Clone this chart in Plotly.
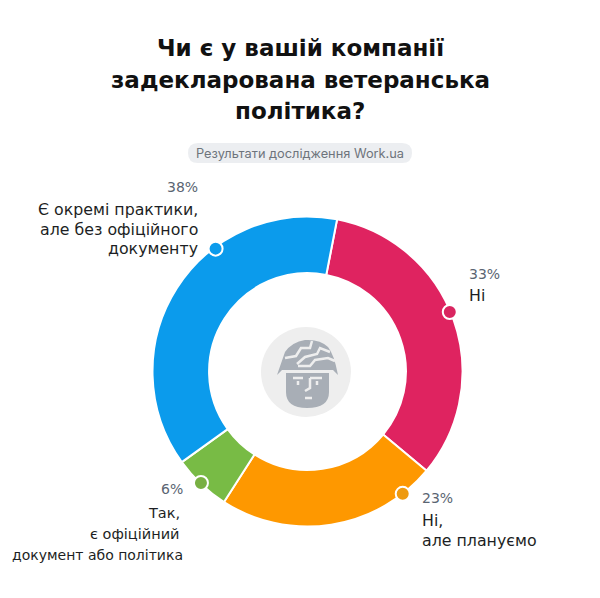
import math
import plotly.graph_objects as go

categories = ["Є окремі практики, але без офіційного документу", "Ні", "Ні, але плануємо", "Так, є офіційний документ або політика"]
values = [38, 33, 23, 6]
colors = ["#0b9bec", "#df2360", "#fe9800", "#78bb45"]
dot_colors = ["#0b9bec", "#d92560", "#ee9a10", "#78b043"]
order = [1, 2, 3, 0]

title_lines = ["Чи є у вашій компанії", "задекларована ветеранська", "політика?"]
subtitle = "Результати дослідження Work.ua"

# callout dots: angle clockwise from 12 o'clock, share of the outer radius
dot_angles = [-36.8, 67.3, 142.1, 223.7]
dot_radius = [0.99, 0.995, 1.0, 0.995]
CX, CY, R = 307.5, 371.5, 155
FONT = "DejaVu Sans, sans-serif"
INK = "#1d1f24"
MUTED = "#5a6472"
ICON = "#a8aeb6"
BADGE = "#eeeeee"

fig = go.Figure()
fig.add_trace(go.Pie(
    values=[values[i] for i in order],
    labels=[categories[i] for i in order],
    marker=dict(colors=[colors[i] for i in order], line=dict(color="white", width=2)),
    sort=False, direction="clockwise", rotation=11, hole=0.635,
    textinfo="none", hoverinfo="label+percent", showlegend=False,
    domain=dict(x=[(CX - R) / 600, (CX + R) / 600], y=[1 - (CY + R) / 598, 1 - (CY - R) / 598]),
))
# an empty trace keeps the pixel-ranged axes alive for the text and shapes
fig.add_trace(go.Scatter(x=[None], y=[None], mode="markers", showlegend=False, hoverinfo="skip"))

def shape(**kw):
    return dict(xref="x", yref="y", **kw)

shapes = [
    # subtitle chip
    shape(type="path", path="M 198 143 H 402 Q 412 143 412 153 Q 412 163 402 163 H 198 Q 188 163 188 153 Q 188 143 198 143 Z",
          fillcolor="#eceef1", line_width=0, layer="below"),
    # centre badge
    shape(type="circle", x0=261, x1=351, y0=327, y1=417, fillcolor=BADGE, line_width=0),
    # helmet
    shape(type="path", path="M 277 375 L 285 352 Q 292 342 305 340 Q 320 339 328 347 Q 334 354 338 375 L 333 370 H 282 Z",
          fillcolor=ICON, line_width=0),
    # helmet cracks
    shape(type="path", path="M 285 358 L 296 356 L 301 348 L 310 348 L 312 341 M 297 364 L 305 357 L 317 354 L 320 348 L 330 352 M 298 366 L 310 366 L 315 360 L 328 358 L 335 361",
          line=dict(color=BADGE, width=2.5)),
    # face
    shape(type="path", path="M 286 373 H 329 V 392 Q 329 408 307 408 Q 286 408 286 392 Z",
          fillcolor=ICON, line_width=0),
    # eyes, nose, mouth
    shape(type="path", path="M 293 378 H 303 M 310 378 H 322 M 298 381 V 385 M 317 381 V 385 M 310 378 V 388 L 305 391 M 305 398 H 312",
          line=dict(color=BADGE, width=2.5)),
]

# callout dots sit on top of the ring
for a, f, c in zip(dot_angles, dot_radius, dot_colors):
    t = math.radians(a)
    px = CX + R * f * math.sin(t)
    py = CY - R * f * math.cos(t)
    shapes.append(shape(type="circle", x0=px - 7, x1=px + 7, y0=py - 7, y1=py + 7,
                        fillcolor=c, line=dict(color="white", width=2)))

ann = []
def text(x, y, s, size, color, anchor="left", weight=None, family=FONT):
    if weight:
        s = f"<b>{s}</b>"
    ann.append(dict(x=x, y=y, xref="x", yref="y", text=s, showarrow=False, xanchor=anchor, yanchor="middle",
                    font=dict(family=family, size=size, color=color), align=anchor))

for y, line in zip([48, 80, 111], title_lines):
    text(300, y, line, 23, "#111111", "center", True)
text(300, 153, subtitle, 12.8, "#6e747c", "center", family="Inter, sans-serif")
text(200, 187, f"{values[0]}%", 14, MUTED, "right")
text(200, 209, "Є окремі практики,", 15.8, INK, "right")
text(200, 229, "але без офіційного", 15.8, INK, "right")
text(200, 248, "документу", 15.8, INK, "right")
text(467, 274, f"{values[1]}%", 14, MUTED)
text(467, 295, "Ні", 15.8, INK)
text(420, 498, f"{values[2]}%", 14, MUTED)
text(420, 520, "Ні,", 15.8, INK)
text(420, 540, "але плануємо", 15.8, INK)
text(185, 489, f"{values[3]}%", 14, MUTED, "right")
text(182, 513, "Так,", 14.5, INK, "right")
text(182, 534, "є офіційний", 14.5, INK, "right")
text(185, 555, "документ або політика", 14, INK, "right")

fig.update_layout(
    width=600, height=598, margin=dict(l=0, r=0, t=0, b=0),
    paper_bgcolor="white", plot_bgcolor="white", shapes=shapes, annotations=ann,
    xaxis=dict(range=[0, 600], visible=False, fixedrange=True),
    yaxis=dict(range=[598, 0], visible=False, fixedrange=True),
)
fig.write_html("out.html", config=dict(displayModeBar=False))
